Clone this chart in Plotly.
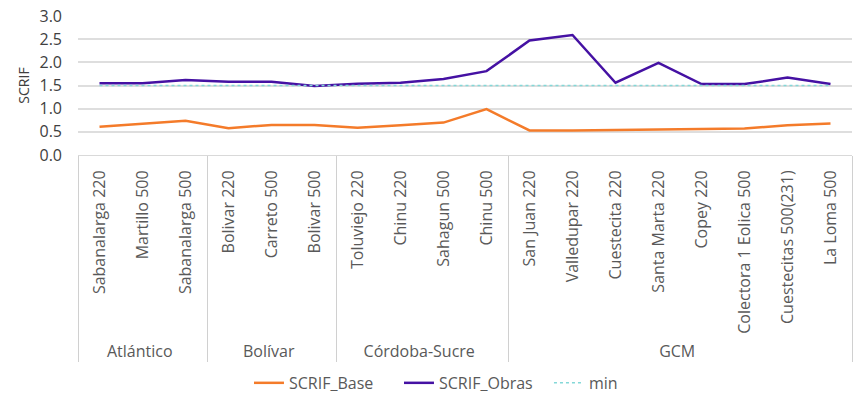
import plotly.graph_objects as go

regions = ["Atlántico"] * 3 + ["Bolívar"] * 3 + ["Córdoba-Sucre"] * 4 + ["GCM"] * 8
substations = [
    "Sabanalarga 220", "Martillo 500", "Sabanalarga 500",
    "Bolivar 220", "Carreto 500", "Bolivar 500",
    "Toluviejo 220", "Chinu 220", "Sahagun 500", "Chinu 500",
    "San Juan 220", "Valledupar 220", "Cuestecita 220", "Santa Marta 220",
    "Copey 220", "Colectora 1 Eolica 500", "Cuestecitas 500(231)", "La Loma 500",
]
scrif_base = [0.61, 0.68, 0.74, 0.58, 0.65, 0.65, 0.59, 0.64, 0.70, 0.99,
              0.53, 0.53, 0.54, 0.54, 0.56, 0.57, 0.64, 0.68]
scrif_obras = [1.55, 1.55, 1.62, 1.58, 1.58, 1.49, 1.54, 1.56, 1.64, 1.81,
               2.47, 2.59, 1.56, 1.99, 1.53, 1.53, 1.67, 1.53]
scrif_min = [1.5, 1.5, 1.5, 1.5, 1.5, 1.5, 1.5, 1.5, 1.5, 1.5,
             1.5, 1.5, 1.5, 1.5, 1.5, 1.5, 1.5, 1.5]
y_ticks = [0.0, 0.5, 1.0, 1.5, 2.0, 2.5, 3.0]

x = [regions, substations]
font = "Open Sans, DejaVu Sans, sans-serif"
txt = "#595959"

fig = go.Figure()
fig.add_trace(go.Scatter(x=x, y=scrif_base, mode="lines", name="SCRIF_Base",
                         line=dict(color="#F47B2A", width=2.5)))
fig.add_trace(go.Scatter(x=x, y=scrif_obras, mode="lines", name="SCRIF_Obras",
                         line=dict(color="#4511A3", width=2.5)))
fig.add_trace(go.Scatter(x=x, y=scrif_min, mode="lines", name="min",
                         line=dict(color="#84D8D8", width=1.5, dash="dot")))

fig.update_layout(
    width=854, height=396,
    margin=dict(l=78, r=2, t=16, b=241),
    paper_bgcolor="white", plot_bgcolor="white",
    font=dict(family=font, color=txt, size=13),
    hovermode=False,
    showlegend=True,
    legend=dict(orientation="h", xref="container", yref="container",
                x=0.555, xanchor="center", y=0.033, yanchor="middle",
                font=dict(size=16, color=txt, family=font),
                entrywidth=105, entrywidthmode="pixels",
                traceorder="normal"),
    xaxis=dict(
        type="multicategory", tickangle=-90, showgrid=False,
        range=[-0.5, 17.5],
        showline=True, linecolor="#d9d9d9", linewidth=1,
        showdividers=True, dividercolor="#d0d0d0", dividerwidth=1,
        ticks="", ticklabelstandoff=8,
        tickfont=dict(size=16, color=txt, family=font),
        automargin=False,
    ),
    yaxis=dict(
        range=[0, 3.0], tickvals=y_ticks, ticktext=["%.1f" % v for v in y_ticks],
        showgrid=True, gridcolor="#dedede", gridwidth=1.5, zeroline=False,
        showline=False, ticks="", ticklabelstandoff=15,
        tickfont=dict(size=16, color="#404040", family=font),
        title=dict(text="SCRIF", font=dict(size=14, color="#404040", family=font), standoff=6),
        automargin=False,
    ),
)

fig.write_html("out.html", config={"displayModeBar": False},
               post_script="document.body.style.margin='0';")
